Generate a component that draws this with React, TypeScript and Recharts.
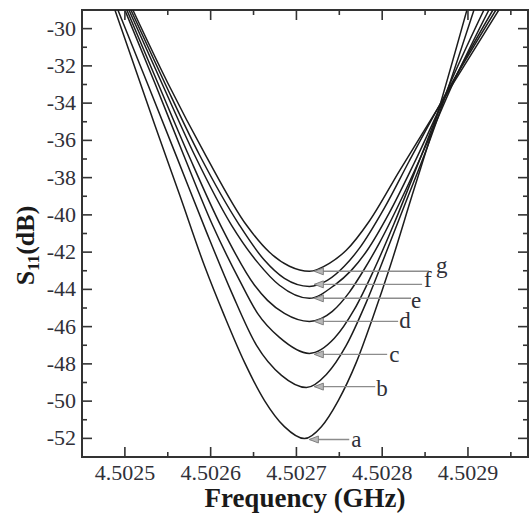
import React from 'react';
import { LineChart, Line, XAxis, YAxis, ReferenceArea, Label } from 'recharts';

// ---------------- data ----------------
const CURVE_NAMES = ['a', 'b', 'c', 'd', 'e', 'f', 'g'];

const FREQ_A = [4.5024884, 4.5025349, 4.502564, 4.502593, 4.5026163, 4.5026395, 4.5026628, 4.502686, 4.5027093, 4.5027291, 4.5027488, 4.5027698, 4.5027895, 4.5028093, 4.5028349, 4.5028605, 4.5028988];
const S11_A = [-29, -35.18, -38.95, -42.76, -45.45, -47.92, -49.97, -51.37, -52.01, -51.37, -49.97, -47.92, -45.45, -42.76, -38.95, -35.18, -29];

const FREQ_B = [4.5024919, 4.5025256, 4.5025605, 4.5025953, 4.5026244, 4.5026535, 4.5026826, 4.5027116, 4.5027349, 4.5027581, 4.5027814, 4.5028047, 4.5028279, 4.5028512, 4.5028744, 4.502907];
const S11_B = [-29, -32.87, -36.9, -40.94, -44.16, -47.01, -48.62, -49.27, -48.57, -47.01, -44.7, -42.01, -39.27, -36.53, -33.52, -29];

const FREQ_C = [4.5025, 4.5025349, 4.5025686, 4.5026023, 4.5026337, 4.5026547, 4.5026802, 4.5027151, 4.5027442, 4.5027675, 4.5027907, 4.502814, 4.502843, 4.5028744, 4.5029186];
const S11_C = [-29, -32.92, -36.8, -40.56, -43.52, -45.29, -46.58, -47.44, -46.63, -45.08, -42.92, -40.45, -37.12, -33.46, -29];

const FREQ_D = [4.5025023, 4.5025384, 4.5025744, 4.5026128, 4.5026512, 4.5026663, 4.502686, 4.5027151, 4.5027419, 4.5027616, 4.5027791, 4.5027965, 4.5028256, 4.5028547, 4.5028837, 4.5029244];
const S11_D = [-29, -32.92, -36.8, -40.67, -43.78, -44.59, -45.29, -45.72, -45.18, -44.16, -42.92, -41.53, -38.84, -35.88, -32.82, -29];

const FREQ_E = [4.5025047, 4.502543, 4.5025814, 4.5026244, 4.5026547, 4.5026802, 4.5027151, 4.5027442, 4.502764, 4.5027826, 4.5028081, 4.5028372, 4.5028756, 4.5029291];
const S11_E = [-29, -32.92, -36.8, -40.56, -42.55, -43.78, -44.48, -43.78, -42.98, -41.9, -39.91, -37.23, -33.46, -29];

const FREQ_F = [4.502507, 4.5025465, 4.5025872, 4.5026337, 4.5026628, 4.502686, 4.5027151, 4.502736, 4.5027558, 4.5027733, 4.5028023, 4.5028314, 4.5028767, 4.5029326];
const S11_F = [-29, -32.92, -36.8, -40.56, -42.44, -43.41, -43.84, -43.52, -42.76, -41.8, -39.65, -37.12, -33.3, -29];

const FREQ_G = [4.5025093, 4.50255, 4.5025942, 4.5026419, 4.5026686, 4.5026919, 4.5027151, 4.5027384, 4.5027581, 4.5027849, 4.5028198, 4.5028779, 4.502936];
const S11_G = [-29, -32.92, -36.8, -40.56, -42.01, -42.76, -43.03, -42.6, -41.9, -40.34, -37.66, -33.3, -29];

// annotation arrows (tip at the minimum, tail at the label)
const ANN_LEVEL = [-52.06, -49.22, -47.49, -45.72, -44.48, -43.73, -43.03];
const ANN_TIP_FREQ = [4.5027151, 4.5027209, 4.5027209, 4.5027209, 4.5027209, 4.5027209, 4.5027209];
const ANN_END_FREQ = [4.5027616, 4.5027919, 4.5028058, 4.5028186, 4.5028337, 4.5028465, 4.5028547];

const X_TICKS = [4.5025, 4.50255, 4.5026, 4.50265, 4.5027, 4.50275, 4.5028, 4.50285, 4.5029, 4.50295];
const Y_TICKS = [-52, -51, -50, -49, -48, -47, -46, -45, -44, -43, -42, -41, -40, -39, -38, -37, -36, -35, -34, -33, -32, -31, -30];
const X_DOMAIN: [number, number] = [4.50245, 4.50297];
const Y_DOMAIN: [number, number] = [-53, -29];

const X_TITLE = 'Frequency (GHz)';

// ---------------- layout / style ----------------
const W = 532;
const H = 515;
const MARGIN = { top: 10, right: 4, left: 0, bottom: 0 };
const Y_AXIS_W = 82;
const X_AXIS_H = 58;
const PLOT_W = W - MARGIN.left - MARGIN.right - Y_AXIS_W;
const PLOT_H = H - MARGIN.top - MARGIN.bottom - X_AXIS_H;
const FONT_STYLE = { fontFamily: 'Liberation Serif' };
const AXIS_COLOR = '#333';
const TEXT_COLOR = '#303038';
const CURVE_COLOR = '#1c1c1c';
const ANN_COLOR = '#8c8c8c';
const LABEL_OFFSETS = [[2, 8], [1, 9], [2, 8], [1, 7], [0, 10], [2, 3], [7, 2]];

const toPoints = (fs: number[], vs: number[]) => fs.map((f, i) => ({ f, v: vs[i] }));
const CURVES = [
  toPoints(FREQ_A, S11_A),
  toPoints(FREQ_B, S11_B),
  toPoints(FREQ_C, S11_C),
  toPoints(FREQ_D, S11_D),
  toPoints(FREQ_E, S11_E),
  toPoints(FREQ_F, S11_F),
  toPoints(FREQ_G, S11_G),
];
const ANNS = CURVE_NAMES.map((_, i) => [
  { f: ANN_TIP_FREQ[i], v: ANN_LEVEL[i] },
  { f: ANN_END_FREQ[i], v: ANN_LEVEL[i] },
]);

const isMajorX = (v: number) => Math.abs(v * 10000 - Math.round(v * 10000)) < 1e-6;

const XTick = (props: any) => {
  const { x, y, payload } = props;
  const val = payload.value as number;
  const major = isMajorX(val);
  const len = major ? 10 : 5;
  return (
    <g>
      <line x1={x} y1={y} x2={x} y2={y - len} stroke={AXIS_COLOR} strokeWidth={1.6} />
      <line x1={x} y1={y - PLOT_H} x2={x} y2={y - PLOT_H + len} stroke={AXIS_COLOR} strokeWidth={1.6} />
      {major && (
        <text x={x} y={y + 23} textAnchor="middle" style={FONT_STYLE} fontSize={22} fill={TEXT_COLOR}>
          {val.toFixed(4)}
        </text>
      )}
    </g>
  );
};

const YTick = (props: any) => {
  const { x, y, payload } = props;
  const val = payload.value as number;
  const major = Math.round(val) % 2 === 0;
  const len = major ? 10 : 5;
  return (
    <g>
      <line x1={x} y1={y} x2={x + len} y2={y} stroke={AXIS_COLOR} strokeWidth={1.6} />
      <line x1={x + PLOT_W} y1={y} x2={x + PLOT_W - len} y2={y} stroke={AXIS_COLOR} strokeWidth={1.6} />
      {major && (
        <text x={x - 6} y={y + 7} textAnchor="end" style={FONT_STYLE} fontSize={22} fill={TEXT_COLOR}>
          {String(val)}
        </text>
      )}
    </g>
  );
};

const makeAnnDot = (i: number) => (props: any) => {
  const { cx, cy, index } = props;
  if (index === 0) {
    return (
      <polygon
        key={`ann-tip-${i}`}
        points={`${cx},${cy} ${cx + 9},${cy - 3.5} ${cx + 9},${cy + 3.5}`}
        fill="#b8b8b8"
        stroke="#808080"
        strokeWidth={1}
      />
    );
  }
  const [dx, dy] = LABEL_OFFSETS[i];
  return (
    <text key={`ann-lbl-${i}`} x={cx + dx} y={cy + dy} style={FONT_STYLE} fontSize={23} fill={TEXT_COLOR}>
      {CURVE_NAMES[i]}
    </text>
  );
};

export default function App() {
  return (
    <div style={{ position: 'absolute', left: 0, top: 0, width: W, height: H, background: '#fff' }}>
      <LineChart width={W} height={H} margin={MARGIN}>
        <XAxis
          dataKey="f"
          type="number"
          domain={X_DOMAIN}
          allowDataOverflow
          ticks={X_TICKS}
          interval={0}
          tick={<XTick />}
          tickLine={false}
          tickSize={0}
          tickMargin={0}
          axisLine={false}
          height={X_AXIS_H}
        >
          <Label
            content={() => (
              <text
                x={MARGIN.left + Y_AXIS_W + PLOT_W / 2}
                y={507}
                textAnchor="middle"
                style={FONT_STYLE}
                fontWeight="bold"
                fontSize={27}
                fill="#1a1a1a"
              >
                {X_TITLE}
              </text>
            )}
          />
        </XAxis>
        <YAxis
          type="number"
          domain={Y_DOMAIN}
          allowDataOverflow
          ticks={Y_TICKS}
          interval={0}
          tick={<YTick />}
          tickLine={false}
          tickSize={0}
          tickMargin={0}
          axisLine={false}
          width={Y_AXIS_W}
        >
          <Label
            content={() => (
              <text
                transform={`translate(34, ${MARGIN.top + PLOT_H / 2 + 12}) rotate(-90)`}
                textAnchor="middle"
                style={FONT_STYLE}
                fontWeight="bold"
                fontSize={26}
                fill="#1a1a1a"
              >
                S
                <tspan fontSize={17} dy={5}>11</tspan>
                <tspan dy={-5}>(dB)</tspan>
              </text>
            )}
          />
        </YAxis>
        {CURVES.map((data, i) => (
          <Line
            key={`curve-${CURVE_NAMES[i]}`}
            data={data}
            dataKey="v"
            type="monotone"
            stroke={CURVE_COLOR}
            strokeWidth={1.5}
            dot={false}
            activeDot={false}
            isAnimationActive={false}
          />
        ))}
        {ANNS.map((data, i) => (
          <Line
            key={`ann-${CURVE_NAMES[i]}`}
            data={data}
            dataKey="v"
            type="linear"
            stroke={ANN_COLOR}
            strokeWidth={1.4}
            dot={makeAnnDot(i)}
            activeDot={false}
            isAnimationActive={false}
          />
        ))}
        <ReferenceArea
          x1={X_DOMAIN[0]}
          x2={X_DOMAIN[1]}
          y1={Y_DOMAIN[0]}
          y2={Y_DOMAIN[1]}
          fill="none"
          fillOpacity={0}
          stroke={AXIS_COLOR}
          strokeWidth={2}
          ifOverflow="visible"
        />
      </LineChart>
    </div>
  );
}
